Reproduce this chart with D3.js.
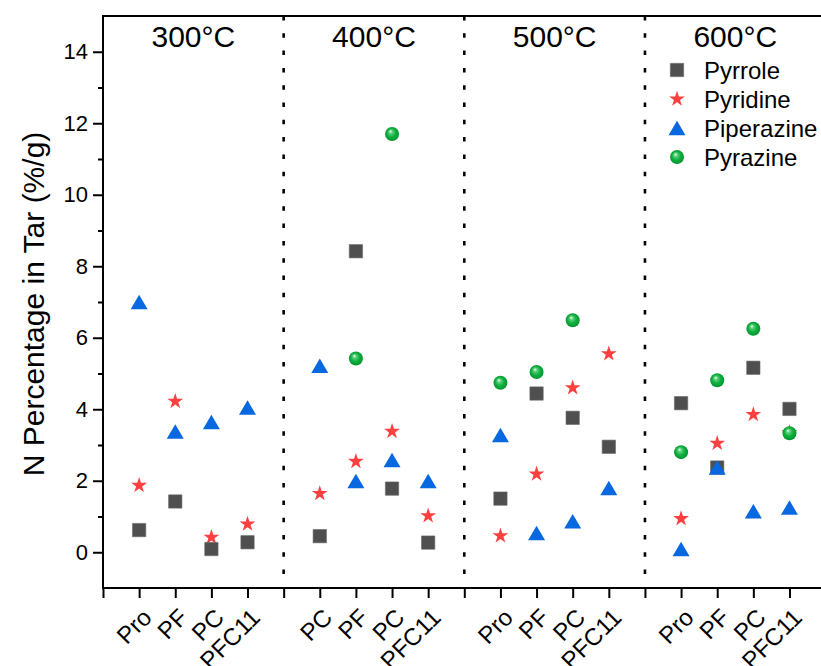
<!DOCTYPE html>
<html>
<head>
<meta charset="utf-8">
<script src="https://cdn.jsdelivr.net/npm/d3@7/dist/d3.min.js"></script>
<style>
  html, body { margin: 0; padding: 0; background: #fff; }
  svg { display: block; font-family: "Liberation Sans", Arial, sans-serif; }
</style>
</head>
<body>
<svg id="chart" width="821" height="666"></svg>
<script>
// ---- data ----
const temps = ["300°C", "400°C", "500°C", "600°C"];
const xLabels = ["Pro", "PF", "PC", "PFC11", "PC", "PF", "PC", "PFC11",
                 "Pro", "PF", "PC", "PFC11", "Pro", "PF", "PC", "PFC11"];
const xPositions = [1, 2, 3, 4, 6, 7, 8, 9, 11, 12, 13, 14, 16, 17, 18, 19];
const separators = [5, 10, 15];
const tempCenters = [2.5, 7.5, 12.5, 17.5];
const yMajorTicks = [0, 2, 4, 6, 8, 10, 12, 14];
const yMinorTicks = [1, 3, 5, 7, 9, 11, 13];
const xTicks = d3.range(0, 21);

const pyrrole    = [0.62, 1.42, 0.09, 0.28, 0.45, 8.42, 1.78, 0.27, 1.50, 4.44, 3.76, 2.95, 4.17, 2.37, 5.16, 4.01];
const pyridine   = [1.87, 4.22, 0.42, 0.79, 1.64, 2.54, 3.38, 1.02, 0.46, 2.19, 4.60, 5.55, 0.94, 3.05, 3.85, 3.35];
const piperazine = [7.00, 3.38, 3.64, 4.05, 5.22, 1.99, 2.58, 1.99, 3.28, 0.54, 0.87, 1.80, 0.09, 2.37, 1.15, 1.25];
const pyrazine   = [null, null, null, null, null, 5.42, 11.70, null, 4.74, 5.04, 6.49, null, 2.80, 4.81, 6.25, 3.33];

const seriesNames = ["Pyrrole", "Pyridine", "Piperazine", "Pyrazine"];

// ---- layout ----
const svg = d3.select("#chart");
const mLeft = 103, mRight = 825.6, mTop = 16, mBottom = 588;
const x = d3.scaleLinear().domain([0, 20]).range([mLeft, mRight]);
const y = d3.scaleLinear().domain([-1, 15]).range([mBottom, mTop]);

const defs = svg.append("defs");
const grad = defs.append("radialGradient").attr("id", "sph")
  .attr("cx", "0.5").attr("cy", "0.5").attr("r", "0.55")
  .attr("fx", "0.38").attr("fy", "0.3");
grad.append("stop").attr("offset", "0").attr("stop-color", "#ffffff");
grad.append("stop").attr("offset", "0.22").attr("stop-color", "#5fd37f");
grad.append("stop").attr("offset", "0.55").attr("stop-color", "#10b040");
grad.append("stop").attr("offset", "1").attr("stop-color", "#00902a");

// symbol shapes
const squarePath = d3.symbol(d3.symbolSquare, 178)();
const starPath = d3.symbol(d3.symbolStar, 78)();
const triW = 17, triH = 14.5;
const triPath = `M0,${-triH / 2}L${triW / 2},${triH / 2}L${-triW / 2},${triH / 2}Z`;

const styles = {
  Pyrrole:    { draw: g => g.append("path").attr("d", squarePath).attr("fill", "#4f4f4f").attr("stroke", "#6a6a6a").attr("stroke-width", 0.6) },
  Pyridine:   { draw: g => g.append("path").attr("d", starPath).attr("fill", "#fc4040") },
  Piperazine: { draw: g => g.append("path").attr("d", triPath).attr("fill", "#0868e0") },
  Pyrazine:   { draw: g => g.append("circle").attr("r", 7).attr("fill", "url(#sph)") }
};

// ---- separators (dotted) ----
svg.append("g").selectAll("line").data(separators).join("line")
  .attr("x1", d => x(d)).attr("x2", d => x(d))
  .attr("y1", mTop).attr("y2", mBottom)
  .attr("stroke", "#000").attr("stroke-width", 2.6)
  .attr("stroke-dasharray", "4.5,12.8");

// ---- axes ----
const xAxis = d3.axisBottom(x).tickValues(xTicks).tickSize(10).tickFormat("");
const gx = svg.append("g").attr("transform", `translate(0,${mBottom})`).call(xAxis);
gx.select(".domain").remove();
gx.selectAll(".tick line").attr("stroke", "#000").attr("stroke-width", 2);

const yAxis = d3.axisLeft(y).tickValues(yMajorTicks).tickSize(10).tickPadding(5).tickFormat(d3.format("d"));
const gy = svg.append("g").attr("transform", `translate(${mLeft},0)`).call(yAxis);
gy.select(".domain").remove();
gy.selectAll(".tick line").attr("stroke", "#000").attr("stroke-width", 2);
gy.selectAll(".tick text").attr("font-size", 22).attr("fill", "#000")
  .attr("font-family", "Liberation Sans, Arial, sans-serif");

const yMinor = d3.axisLeft(y).tickValues(yMinorTicks).tickSize(5).tickFormat("");
const gym = svg.append("g").attr("transform", `translate(${mLeft},0)`).call(yMinor);
gym.select(".domain").remove();
gym.selectAll(".tick line").attr("stroke", "#000").attr("stroke-width", 2);

// frame
svg.append("rect").attr("x", mLeft).attr("y", mTop)
  .attr("width", mRight - mLeft).attr("height", mBottom - mTop)
  .attr("fill", "none").attr("stroke", "#000").attr("stroke-width", 2);

// x tick labels rotated
svg.append("g").selectAll("text").data(xLabels).join("text")
  .attr("transform", (d, i) => `translate(${x(xPositions[i]) + 14},${mBottom + 31}) rotate(-45)`)
  .attr("text-anchor", "end")
  .attr("font-size", 24)
  .attr("fill", "#000")
  .text(d => d);

// temperature labels
svg.append("g").selectAll("text").data(temps).join("text")
  .attr("x", (d, i) => x(tempCenters[i])).attr("y", 47)
  .attr("text-anchor", "middle").attr("font-size", 30).attr("fill", "#000")
  .text(d => d);

// y title
svg.append("text")
  .attr("transform", `translate(44,304) rotate(-90)`)
  .attr("text-anchor", "middle").attr("font-size", 30).attr("fill", "#000")
  .text("N Percentage in Tar (%/g)");

// ---- points ----
const drawOrder = [["Pyridine", pyridine], ["Pyrrole", pyrrole], ["Piperazine", piperazine], ["Pyrazine", pyrazine]];
drawOrder.forEach(([name, vals]) => {
  const g = svg.append("g").attr("class", name);
  vals.forEach((v, i) => {
    if (v === null) return;
    const p = g.append("g").attr("transform", `translate(${x(xPositions[i])},${y(v)})`);
    styles[name].draw(p);
  });
});

// ---- legend ----
const legendY = d3.scalePoint().domain(seriesNames).range([70, 157]);
const lg = svg.append("g");
seriesNames.forEach(name => {
  const row = lg.append("g").attr("transform", `translate(677,${legendY(name)})`);
  styles[name].draw(row);
  row.append("text").attr("x", 27).attr("y", 0).attr("dy", "0.36em")
    .attr("font-size", 24).attr("fill", "#000").text(name);
});
</script>
</body>
</html>
